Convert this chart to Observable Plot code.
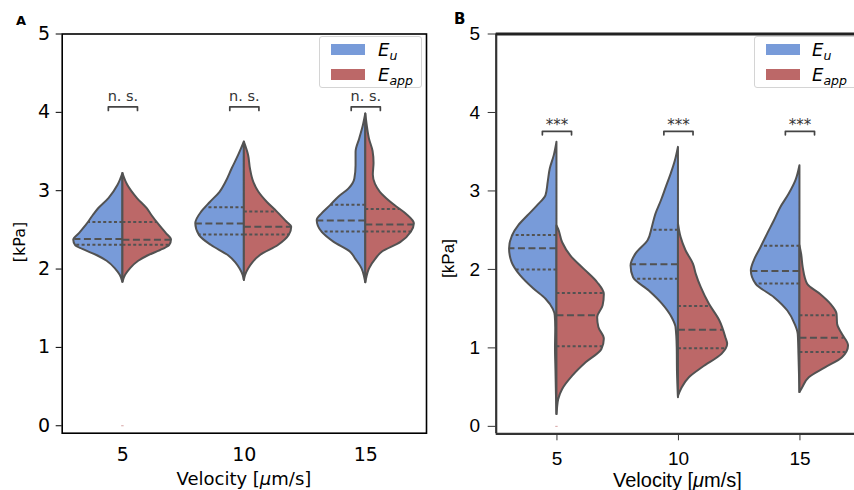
<!DOCTYPE html>
<html><head><meta charset="utf-8">
<script src="https://cdn.jsdelivr.net/npm/d3@7"></script>
<script src="https://cdn.jsdelivr.net/npm/@observablehq/plot@0.6"></script>
<style>
html,body{margin:0;padding:0;background:#fff;overflow:hidden;width:854px;height:490px}
#root{position:relative;width:854px;height:490px;overflow:hidden}
.abs{position:absolute;white-space:nowrap;line-height:1}
.panel{position:absolute;top:0}
.legend{position:absolute;border:1px solid #d4d4d4;border-radius:3px;background:rgba(255,255,255,0.85);box-sizing:border-box}
.sw{position:absolute;width:34px;height:11px}
.lt{position:absolute;font-family:"DejaVu Sans";font-style:italic;font-size:18px;line-height:1}
.lt sub{font-size:12.5px;vertical-align:-4px}
</style></head><body><div id="root"></div>
<script>
// ---------- data ----------
const categories = ["5", "10", "15"];
const seriesNames = ["E_u", "E_app"];
const yTicks = [0, 1, 2, 3, 4, 5];

// Violin half profiles: [value (kPa), half-width density (fraction of category spacing)]
// Panel A
const aEu5 = [[3.22,0],[3.07,0.04],[2.90,0.115],[2.77,0.20],[2.68,0.245],[2.56,0.30],[2.45,0.36],[2.37,0.405],[2.30,0.39],[2.25,0.33],[2.17,0.21],[2.10,0.13],[2.00,0.06],[1.92,0.022],[1.83,0]];
const aEapp5 = [[3.22,0],[3.07,0.04],[2.90,0.12],[2.77,0.20],[2.68,0.24],[2.56,0.30],[2.45,0.36],[2.37,0.40],[2.30,0.385],[2.25,0.33],[2.17,0.21],[2.10,0.13],[2.00,0.06],[1.92,0.022],[1.83,0]];
const aEu10 = [[3.62,0],[3.45,0.047],[3.28,0.10],[3.11,0.15],[2.98,0.20],[2.85,0.28],[2.73,0.35],[2.58,0.40],[2.43,0.37],[2.30,0.27],[2.17,0.13],[2.08,0.07],[2.00,0.035],[1.92,0.01],[1.855,0]];
const aEapp10 = [[3.62,0],[3.45,0.035],[3.28,0.05],[3.11,0.077],[2.98,0.12],[2.85,0.19],[2.73,0.27],[2.60,0.35],[2.535,0.39],[2.43,0.37],[2.30,0.28],[2.17,0.13],[2.08,0.07],[2.00,0.035],[1.92,0.01],[1.855,0]];
const aEu15 = [[3.98,0],[3.83,0.02],[3.66,0.05],[3.49,0.08],[3.32,0.08],[3.15,0.09],[3.02,0.14],[2.92,0.22],[2.81,0.29],[2.705,0.36],[2.62,0.40],[2.47,0.36],[2.34,0.26],[2.215,0.125],[2.13,0.085],[2.00,0.03],[1.90,0.01],[1.825,0]];
const aEapp15 = [[3.98,0],[3.83,0.012],[3.66,0.03],[3.50,0.06],[3.35,0.068],[3.20,0.062],[3.08,0.08],[2.98,0.12],[2.92,0.157],[2.81,0.24],[2.705,0.33],[2.575,0.40],[2.47,0.375],[2.34,0.29],[2.215,0.135],[2.13,0.085],[2.00,0.03],[1.90,0.01],[1.825,0]];
// Panel B
const bEu5 = [[3.62,0],[3.45,0.022],[3.28,0.055],[3.11,0.072],[2.94,0.09],[2.81,0.16],[2.68,0.24],[2.555,0.315],[2.43,0.365],[2.26,0.39],[2.09,0.37],[1.92,0.30],[1.75,0.19],[1.62,0.09],[1.49,0.03],[1.41,0.014],[1.25,0.01],[1.00,0.012],[0.70,0.008],[0.40,0.004],[0.15,0]];
const bEapp5 = [[2.555,0],[2.51,0.014],[2.34,0.047],[2.17,0.115],[2.00,0.225],[1.83,0.335],[1.68,0.39],[1.535,0.38],[1.385,0.335],[1.26,0.345],[1.11,0.39],[0.98,0.37],[0.81,0.24],[0.64,0.13],[0.47,0.047],[0.34,0.014],[0.215,0.004],[0.15,0]];
const bEu10 = [[3.555,0],[3.385,0.025],[3.215,0.06],[3.045,0.10],[2.875,0.14],[2.705,0.185],[2.535,0.215],[2.365,0.25],[2.195,0.35],[2.045,0.39],[1.895,0.37],[1.725,0.24],[1.555,0.13],[1.385,0.052],[1.26,0.02],[1.00,0.01],[0.70,0.008],[0.365,0]];
const bEapp10 = [[2.58,0],[2.405,0.022],[2.235,0.063],[2.065,0.124],[1.94,0.146],[1.77,0.187],[1.555,0.255],[1.345,0.34],[1.13,0.39],[1.045,0.405],[0.92,0.36],[0.75,0.20],[0.62,0.09],[0.49,0.03],[0.38,0]];
const bEu15 = [[3.32,0],[3.13,0.033],[2.96,0.088],[2.79,0.157],[2.62,0.21],[2.45,0.266],[2.28,0.32],[2.11,0.376],[1.98,0.40],[1.81,0.36],[1.64,0.21],[1.47,0.10],[1.30,0.04],[1.17,0.014],[0.90,0.008],[0.43,0]];
const bEapp15 = [[2.30,0],[2.19,0.014],[2.02,0.027],[1.81,0.063],[1.68,0.17],[1.555,0.255],[1.43,0.305],[1.30,0.31],[1.17,0.35],[1.025,0.40],[0.875,0.35],[0.745,0.21],[0.62,0.077],[0.49,0.022],[0.43,0]];

// Quartiles [q1, median, q3] per category
const qAEu = [[2.31,2.385,2.60],[2.44,2.58,2.79],[2.48,2.62,2.82]];
const qAEapp = [[2.31,2.375,2.60],[2.44,2.54,2.735],[2.48,2.57,2.765]];
const qBEu = [[2.00,2.27,2.44],[1.88,2.065,2.505],[1.82,1.98,2.30]];
const qBEapp = [[1.02,1.415,1.70],[0.995,1.23,1.535],[0.947,1.13,1.415]];

// Significance annotations
const sigA = ["n. s.", "n. s.", "n. s."];
const sigB = ["***", "***", "***"];
const sigLevelA = 4.07;
const sigLevelB = 3.76;

// ---------- styling ----------
const blue = "#789bd9";
const red = "#bc6868";
const edge = "#525252";

function widthAt(profile, v) {
  const p = [...profile].sort((a, b) => a[0] - b[0]);
  for (let i = 0; i < p.length - 1; i++) {
    if (v >= p[i][0] && v <= p[i+1][0]) {
      const t = (v - p[i][0]) / (p[i+1][0] - p[i][0]);
      return p[i][1] + t * (p[i+1][1] - p[i][1]);
    }
  }
  return 0;
}

function buildPanel(cfg) {
  const halves = [];
  const quart = [], med = [];
  categories.forEach((cat, ci) => {
    [[cfg.eu[ci], -1, "Eu", cfg.qEu[ci]], [cfg.eapp[ci], 1, "Eapp", cfg.qEapp[ci]]].forEach(([prof, side, s, q]) => {
      const key = s + ci;
      [...prof].sort((a, b) => a[0] - b[0]).forEach(([v, w]) => halves.push({v, c: ci, e: ci + side * w, key, s}));
      q.forEach((qv, qi) => {
        const row = {v: qv, c: ci, e: ci + side * widthAt(prof, qv)};
        (qi === 1 ? med : quart).push(row);
      });
    });
  });
  const br = [];
  categories.forEach((cat, ci) => {
    const L = ci - 0.12, R = ci + 0.12, lv = cfg.sigLevel, d = 0.045;
    br.push({x: L, y: lv - d, k: ci}, {x: L, y: lv, k: ci}, {x: R, y: lv, k: ci}, {x: R, y: lv - d, k: ci});
  });
  const sigRows = cfg.sig.map((t, ci) => ({t, c: ci, v: cfg.sigLevel}));

  const yDomain = [-0.095, 5];
  const marks = [
    Plot.areaX(halves.filter(d => d.s === "Eu"), {y: "v", x1: "c", x2: "e", z: "key", fill: blue, stroke: edge, strokeWidth: 2, curve: "monotone-y"}),
    Plot.areaX(halves.filter(d => d.s === "Eapp"), {y: "v", x1: "c", x2: "e", z: "key", fill: red, stroke: edge, strokeWidth: 2, curve: "monotone-y"}),
    Plot.ruleY(quart, {y: "v", x1: "c", x2: "e", stroke: edge, strokeWidth: 2, strokeDasharray: "3,2.4"}),
    Plot.ruleY(med, {y: "v", x1: "c", x2: "e", stroke: edge, strokeWidth: 2, strokeDasharray: "7,3.5"}),
    Plot.ruleY([{c: 0, v: 0}], {y: "v", x1: d => d.c - 0.01, x2: d => d.c + 0.01, stroke: red, strokeWidth: 1, strokeOpacity: 0.6}),
    Plot.line(br, {x: "x", y: "y", z: "k", stroke: "#444", strokeWidth: 1.7}),
    Plot.text(sigRows, {x: "c", y: "v", text: "t", dy: cfg.sigDy, fontSize: cfg.sigSize, fontFamily: "DejaVu Sans", fill: "#333", lineAnchor: "middle"}),
    Plot.axisX([0, 1, 2], {tickFormat: i => categories[i], tickSize: cfg.xTickSize, tickPadding: cfg.xTickPad, label: null, stroke: cfg.axisColor}),
    Plot.axisY(yTicks, {tickFormat: d => String(d), tickSize: cfg.yTickSize, tickPadding: cfg.yTickPad, label: null, stroke: cfg.axisColor})
  ];
  if (cfg.fullFrame) {
    marks.push(Plot.frame({stroke: "#000", strokeWidth: 1.6}));
  } else {
    marks.push(
      Plot.ruleX([-0.5], {stroke: "#333", strokeWidth: 2.2}),
      Plot.ruleY([yDomain[0]], {stroke: "#333", strokeWidth: 2.2}),
      Plot.ruleY([yDomain[1]], {stroke: "#222", strokeWidth: 3})
    );
  }
  return Plot.plot({
    width: cfg.width, height: 490,
    marginLeft: cfg.ml, marginRight: cfg.mr, marginTop: 33.5, marginBottom: cfg.mb,
    x: {domain: [-0.5, 2.5], axis: null},
    y: {domain: yDomain, axis: null},
    style: {fontFamily: cfg.font, fontSize: cfg.tickFont + "px", color: "#000", background: "transparent", overflow: "visible"},
    marks
  });
}

const root = document.getElementById("root");

const pA = buildPanel({
  eu: [aEu5, aEu10, aEu15], eapp: [aEapp5, aEapp10, aEapp15], qEu: qAEu, qEapp: qAEapp,
  sig: sigA, sigLevel: sigLevelA, sigDy: -10.5, sigSize: 14.5,
  width: 430, ml: 61.7, mr: 4, mb: 57.3, font: "DejaVu Sans", tickFont: 19,
  xTickSize: 0, xTickPad: 14, yTickSize: 6, yTickPad: 6, axisColor: "#000", fullFrame: true
});
pA.classList.add("panel"); pA.style.left = "0px";
root.appendChild(pA);

const pB = buildPanel({
  eu: [bEu5, bEu10, bEu15], eapp: [bEapp5, bEapp10, bEapp15], qEu: qBEu, qEapp: qBEapp,
  sig: sigB, sigLevel: sigLevelB, sigDy: -6, sigSize: 15,
  width: 432, ml: 65.7, mr: 1.8, mb: 56.7, font: "Liberation Sans", tickFont: 19,
  xTickSize: 7, xTickPad: 11, yTickSize: 8, yTickPad: 8, axisColor: "#333", fullFrame: false
});
pB.classList.add("panel"); pB.style.left = "430px";
root.appendChild(pB);

function addText(html, css) {
  const d = document.createElement("div");
  d.className = "abs"; d.innerHTML = html;
  Object.assign(d.style, css);
  root.appendChild(d);
  return d;
}
// panel letters
addText("A", {left: "16px", top: "14px", fontFamily: "DejaVu Sans", fontWeight: "bold", fontSize: "13px"});
addText("B", {left: "454px", top: "12px", fontFamily: "DejaVu Sans", fontWeight: "bold", fontSize: "15px"});
// axis labels
const xl = "Velocity [<i>μ</i>m/s]";
const xa = addText(xl, {top: "470px", fontFamily: "DejaVu Sans", fontSize: "18px"});
xa.style.left = (244 - xa.offsetWidth / 2) + "px";
const xb = addText(xl, {top: "470px", fontFamily: "Liberation Sans", fontSize: "20px"});
xb.style.left = (677.5 - xb.offsetWidth / 2) + "px";
const ya = addText("[kPa]", {fontFamily: "DejaVu Sans", fontSize: "16px"});
ya.style.left = (20 - ya.offsetWidth / 2) + "px"; ya.style.top = (242 - ya.offsetHeight / 2) + "px"; ya.style.transform = "rotate(-90deg)";
const yb = addText("[kPa]", {fontFamily: "Liberation Sans", fontSize: "17px"});
yb.style.left = (448 - yb.offsetWidth / 2) + "px"; yb.style.top = (258 - yb.offsetHeight / 2) + "px"; yb.style.transform = "rotate(-90deg)";

// legends
function legend(left, width, swLeft, txtLeft) {
  const box = document.createElement("div");
  box.className = "legend";
  Object.assign(box.style, {left: left + "px", top: "36px", width: width + "px", height: "52px"});
  root.appendChild(box);
  const labels = ["E<sub>u</sub>", "E<sub>app</sub>"];
  [blue, red].forEach((col, i) => {
    const s = document.createElement("div");
    s.className = "sw";
    Object.assign(s.style, {left: swLeft + "px", top: (44.3 + i * 24.7) + "px", background: col});
    root.appendChild(s);
    const t = document.createElement("div");
    t.className = "lt"; t.innerHTML = labels[i];
    Object.assign(t.style, {left: txtLeft + "px", top: (41 + i * 24.7) + "px"});
    root.appendChild(t);
  });
}
legend(319, 103, 331, 378);
legend(754, 120, 766, 812);
</script></body></html>
